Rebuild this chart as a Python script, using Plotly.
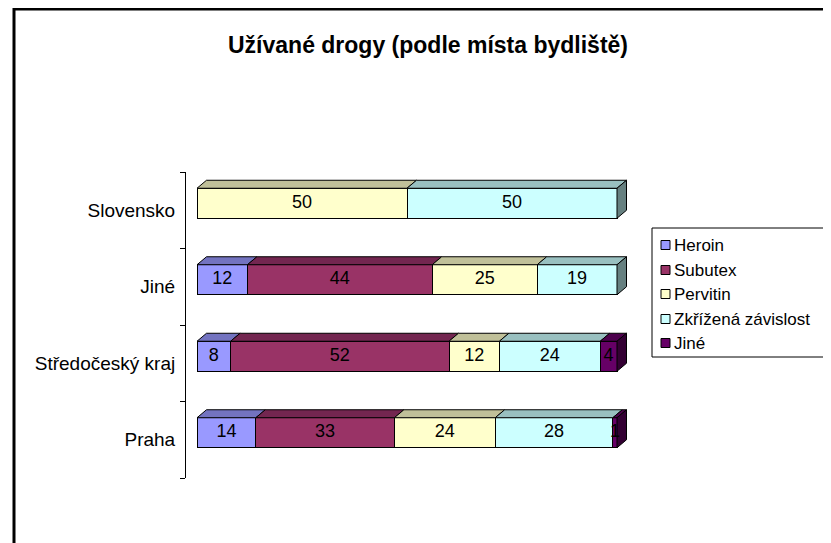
import plotly.graph_objects as go

# ---------------- data ----------------
categories = ["Praha", "Středočeský kraj", "Jiné", "Slovensko"]
series_names = ["Heroin", "Subutex", "Pervitin", "Zkřížená závislost", "Jiné"]
heroin   = [14, 8, 12, 0]
subutex  = [33, 52, 44, 0]
pervitin = [24, 12, 25, 50]
zkrizena = [28, 24, 19, 50]
jine     = [1, 4, 0, 0]
title_text = "Užívané drogy (podle místa bydliště)"

# ---------------- styles ----------------
front_colors = ["#9999FF", "#993366", "#FFFFCC", "#CCFFFF", "#660066"]
top_colors   = ["#7373C0", "#732650", "#C0C099", "#99C0C0", "#4D004D"]
side_colors  = ["#4D4D80", "#4D1A33", "#808066", "#668080", "#330033"]
FONT = "Liberation Sans, Arial, sans-serif"

# page offset (browser body margin)
OFF = 8
SCREEN_W, SCREEN_H = 831, 543
W, H = SCREEN_W - OFF, SCREEN_H - OFF

# pixel geometry of plot area (screen coordinates)
L, R, T, B = 186, 640, 172, 478
PX_PER_UNIT = 4.2            # x: 0 -> 197px, 100 -> 617px
x_min = (L - 197) / PX_PER_UNIT
x_max = (R - 197) / PX_PER_UNIT
cat_px = (B - T) / 4.0
dx = 9.5 / PX_PER_UNIT
dy = 8.0 / cat_px
half = 15.0 / cat_px
shift = 7.0 / cat_px

def px(xp):
    return (xp - L) / (R - L)

def py(yp):
    return (B - yp) / (B - T)

all_series = [heroin, subutex, pervitin, zkrizena, jine]
n_cat = len(categories)

fig = go.Figure()

# front faces (stacked bars)
for s, vals in enumerate(all_series):
    fig.add_trace(go.Bar(
        y=list(range(n_cat)), x=[v if v else None for v in vals], orientation="h",
        width=2 * half, offset=shift - half,
        marker=dict(color=front_colors[s], line=dict(color="black", width=1)),
        name=series_names[s], showlegend=False, hoverinfo="skip",
    ))

# top faces
cum = [0.0] * n_cat
for s, vals in enumerate(all_series):
    xs, ys = [], []
    for i, v in enumerate(vals):
        if v:
            x0, x1 = cum[i], cum[i] + v
            yt = i + shift + half
            xs += [x0, x1, x1 + dx, x0 + dx, x0, None]
            ys += [yt, yt, yt + dy, yt + dy, yt, None]
            cum[i] = x1
    fig.add_trace(go.Scatter(
        x=xs, y=ys, mode="lines", fill="toself", fillcolor=top_colors[s],
        line=dict(color="black", width=1), showlegend=False, hoverinfo="skip",
    ))

# side faces (rightmost segment)
for i in range(n_cat):
    last = max(s for s in range(len(all_series)) if all_series[s][i])
    tot = cum[i]
    yb = i + shift - half
    yt = i + shift + half
    fig.add_trace(go.Scatter(
        x=[tot, tot, tot + dx, tot + dx, tot],
        y=[yb, yt, yt + dy, yb + dy, yb],
        mode="lines", fill="toself", fillcolor=side_colors[last],
        line=dict(color="black", width=1), showlegend=False, hoverinfo="skip",
    ))

# value labels
lx, ly, lt = [], [], []
cum2 = [0.0] * n_cat
for s, vals in enumerate(all_series):
    for i, v in enumerate(vals):
        if v:
            lx.append(cum2[i] + v / 2)
            ly.append(i + shift)
            lt.append(str(v))
            cum2[i] += v
fig.add_trace(go.Scatter(
    x=lx, y=ly, text=lt, mode="text",
    textfont=dict(family=FONT, size=18, color="black"),
    showlegend=False, hoverinfo="skip",
))

shapes = []
# chart frame
shapes.append(dict(type="rect", xref="paper", yref="paper",
                   x0=px(14), x1=px(SCREEN_W + 5), y0=py(9), y1=py(SCREEN_H + 5),
                   line=dict(color="black", width=3), fillcolor="rgba(0,0,0,0)"))
# legend box
leg_left, leg_top, leg_bottom = 652, 228, 357
shapes.append(dict(type="rect", xref="paper", yref="paper",
                   x0=px(leg_left), x1=px(SCREEN_W + 20), y0=py(leg_top), y1=py(leg_bottom),
                   line=dict(color="black", width=1), fillcolor="white"))
annotations = []
leg_y = [245, 270, 294, 319, 343]
for s, name in enumerate(series_names):
    yc = leg_y[s]
    shapes.append(dict(type="rect", xref="paper", yref="paper",
                       x0=px(661), x1=px(670), y0=py(yc - 4.5), y1=py(yc + 4.5),
                       line=dict(color="black", width=1), fillcolor=front_colors[s]))
    annotations.append(dict(xref="paper", yref="paper", x=px(672), y=py(yc),
                            text=name, showarrow=False, xanchor="left", yanchor="middle",
                            font=dict(family=FONT, size=17, color="black")))

annotations.append(dict(xref="paper", yref="paper", x=px(428), y=py(45),
                        text="<b>" + title_text + "</b>", showarrow=False,
                        xanchor="center", yanchor="middle",
                        font=dict(family=FONT, size=23, color="black")))

fig.update_layout(
    width=W, height=H,
    margin=dict(l=L - OFF, r=SCREEN_W - R, t=T - OFF, b=SCREEN_H - B, pad=0),
    paper_bgcolor="white", plot_bgcolor="white",
    barmode="stack", showlegend=False,
    shapes=shapes, annotations=annotations,
    xaxis=dict(range=[x_min, x_max], visible=False, fixedrange=True),
    yaxis=dict(range=[-0.5, n_cat - 0.5], tickmode="array",
               tickvals=list(range(n_cat)), ticktext=categories,
               ticks="", showline=True, linecolor="black", linewidth=1,
               showgrid=False, zeroline=False, ticklabelstandoff=6,
               tickfont=dict(family=FONT, size=19, color="black"),
               minor=dict(tickmode="array", tickvals=[k - 0.5 for k in range(n_cat + 1)],
                          ticks="outside", ticklen=5, tickcolor="black", showgrid=False),
               fixedrange=True),
    font=dict(family=FONT),
)

fig.write_html("out.html")
